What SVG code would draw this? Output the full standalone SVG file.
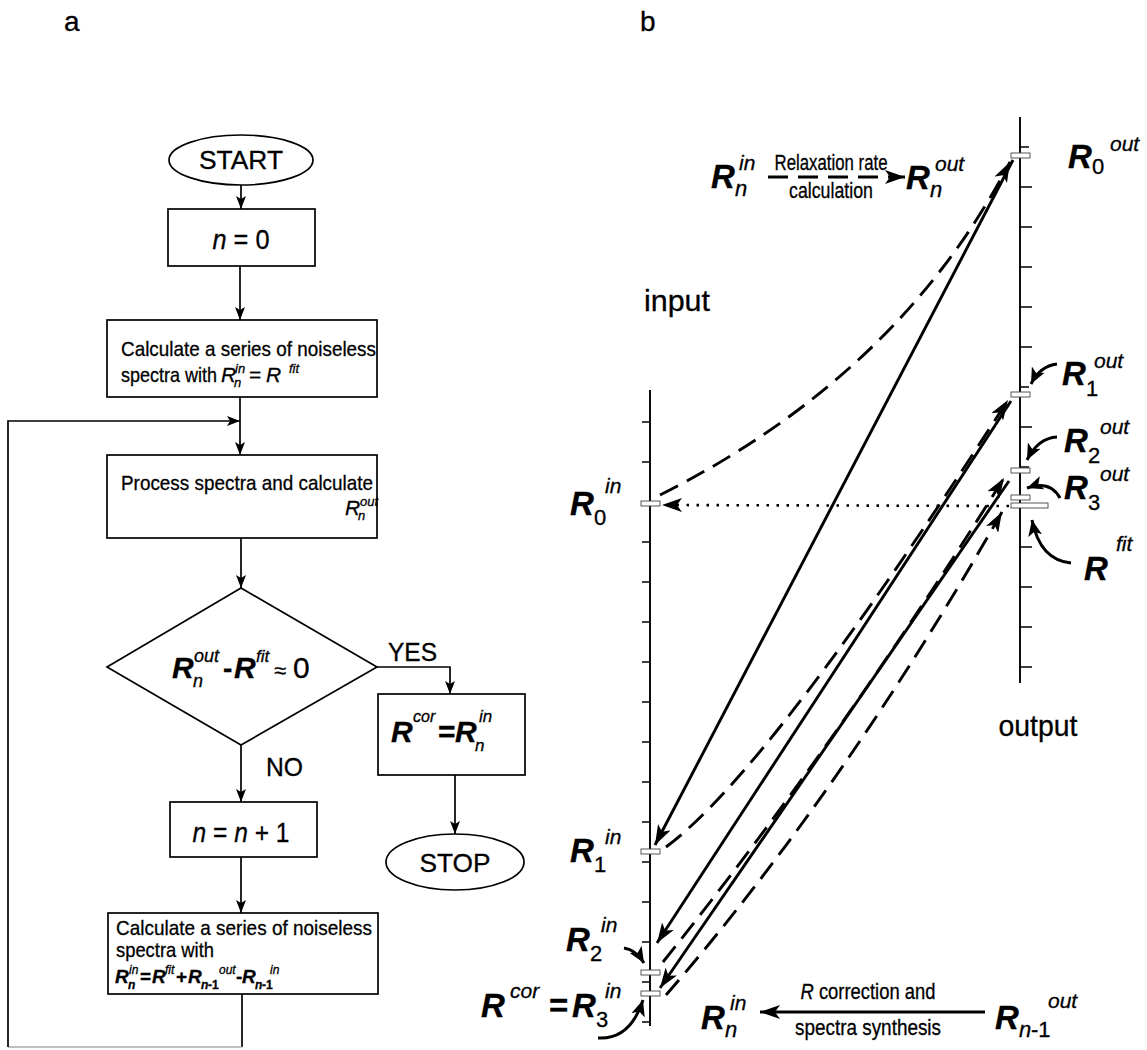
<svg xmlns="http://www.w3.org/2000/svg" width="1147" height="1050" viewBox="0 0 1147 1050">
<style>
text{font-family:"Liberation Sans",Arial,sans-serif;fill:#000;stroke:#000;stroke-width:0.3}
.box{fill:#fff;stroke:#000;stroke-width:1.7}
.fl{fill:none;stroke:#000;stroke-width:1.7}
.t21{font-size:21px}
.big{font-size:28px}
.lab{font-size:28px}
.Rb{font-size:33px;font-weight:bold;font-style:italic}
.Rf{font-size:30px;font-weight:bold;font-style:italic}
.Ri{font-style:italic}
.s{font-size:22px}
.si{font-size:22px;font-style:italic}
.p{font-size:21px;font-style:italic}
.fs{font-size:13px;font-style:italic}
.fsb{font-size:12px;font-style:italic}
.ax{fill:none;stroke:#000;stroke-width:1.9}
.tick{stroke:#000;stroke-width:1.5}
.mk{fill:#fff;stroke:#444;stroke-width:0.9}
.sol{fill:none;stroke:#000;stroke-width:2.9}
.dash{fill:none;stroke:#000;stroke-width:2.9;stroke-dasharray:20 10}
.dot{fill:none;stroke:#000;stroke-width:2.6;stroke-dasharray:2.5 7.5}
.cur{fill:none;stroke:#000;stroke-width:3}
</style>
<defs>
<marker id="fa" markerUnits="userSpaceOnUse" markerWidth="14" markerHeight="10" refX="13" refY="5" orient="auto">
<path d="M0,0 L13,5 L0,10 L3,5 Z" fill="#000"/>
</marker>
<marker id="ba" markerUnits="userSpaceOnUse" markerWidth="22" markerHeight="14" refX="20" refY="7" orient="auto">
<path d="M0,0 L20,7 L0,14 L5,7 Z" fill="#000"/>
</marker>
<marker id="ca" markerUnits="userSpaceOnUse" markerWidth="18" markerHeight="14" refX="16" refY="7" orient="auto">
<path d="M0,0 L16,7 L0,14 L4,7 Z" fill="#000"/>
</marker>
</defs>

<text x="64" y="31" class="lab">a</text>
<text x="640" y="31" class="lab">b</text>

<g id="flow-connectors">
<line class="fl" x1="241" y1="185" x2="241" y2="209" marker-end="url(#fa)"/>
<line class="fl" x1="240" y1="266" x2="240" y2="320" marker-end="url(#fa)"/>
<line class="fl" x1="240" y1="397" x2="240" y2="455" marker-end="url(#fa)"/>
<line class="fl" x1="241" y1="538" x2="241" y2="588" marker-end="url(#fa)"/>
<polyline class="fl" points="377,667 450,667 450,694" marker-end="url(#fa)"/>
<line class="fl" x1="241" y1="745" x2="241" y2="802" marker-end="url(#fa)"/>
<line class="fl" x1="455" y1="775" x2="455" y2="834" marker-end="url(#fa)"/>
<line class="fl" x1="241" y1="857" x2="241" y2="913" marker-end="url(#fa)"/>
<polyline class="fl" points="242,994 242,1047"/>
<polyline fill="none" stroke="#aaa" stroke-width="1.4" points="242,1047 8,1047"/>
<polyline class="fl" points="8,1047 8,421 240,421" marker-end="url(#fa)"/>
<text x="388" y="661" font-size="25" textLength="49" lengthAdjust="spacingAndGlyphs">YES</text>
<text x="266" y="776" font-size="25" textLength="37" lengthAdjust="spacingAndGlyphs">NO</text>
</g>

<g id="start">
<ellipse cx="241" cy="160" rx="72" ry="25" class="box"/>
<text x="241" y="169" text-anchor="middle" font-size="26" textLength="84" lengthAdjust="spacingAndGlyphs">START</text>
</g>
<g id="n0">
<rect x="168" y="209" width="147" height="57" class="box"/>
<text x="241" y="249" text-anchor="middle" class="big" textLength="57" lengthAdjust="spacingAndGlyphs"><tspan font-style="italic">n</tspan> = 0</text>
</g>
<g id="calc1">
<rect x="107" y="320" width="270" height="77" class="box"/>
<text x="121" y="356" class="t21" textLength="255" lengthAdjust="spacingAndGlyphs">Calculate a series of noiseless</text>
<text x="121" y="382" class="t21" textLength="96" lengthAdjust="spacingAndGlyphs">spectra with</text>
<text class="t21"><tspan x="221" y="382" class="Ri">R</tspan><tspan x="234" y="387" class="fs">n</tspan><tspan x="235" y="373" class="fs">in</tspan><tspan x="249" y="382">=</tspan><tspan x="266" y="382" class="Ri">R</tspan><tspan x="289" y="373" class="fs">fit</tspan></text>
</g>
<g id="process">
<rect x="107" y="455" width="270" height="83" class="box"/>
<text x="121" y="490" class="t21" textLength="252" lengthAdjust="spacingAndGlyphs">Process spectra and calculate</text>
<text class="t21"><tspan x="345" y="515" class="Ri">R</tspan><tspan x="358" y="520" class="fs">n</tspan><tspan x="360" y="506" class="fs">out</tspan></text>
</g>
<g id="decision">
<polygon points="241,588 377,667 241,745 107,667" class="box"/>
<text><tspan x="172" y="678" class="Rf">R</tspan><tspan x="193" y="687" font-size="18" font-style="italic">n</tspan><tspan x="194" y="662" font-size="18" font-style="italic">out</tspan><tspan x="223" y="678" font-size="28" font-weight="bold">-</tspan><tspan x="234" y="678" class="Rf">R</tspan><tspan x="256" y="662" font-size="17" font-style="italic">fit</tspan><tspan x="274" y="678" font-size="22">≈</tspan><tspan x="293" y="678" font-size="30">0</tspan></text>
</g>
<g id="rcor">
<rect x="378" y="694" width="147" height="81" class="box"/>
<text><tspan x="391" y="742" class="Rf">R</tspan><tspan x="413" y="722" font-size="16" font-style="italic">cor</tspan><tspan x="438" y="742" font-size="30" font-weight="bold">=</tspan><tspan x="455" y="742" class="Rf">R</tspan><tspan x="475" y="751" font-size="17" font-style="italic">n</tspan><tspan x="479" y="722" font-size="17" font-style="italic">in</tspan></text>
</g>
<g id="stop">
<ellipse cx="455" cy="862" rx="69" ry="28" class="box"/>
<text x="455" y="872" text-anchor="middle" font-size="26" textLength="71" lengthAdjust="spacingAndGlyphs">STOP</text>
</g>
<g id="n-inc">
<rect x="170" y="802" width="147" height="55" class="box"/>
<text x="241" y="842" text-anchor="middle" class="big" textLength="97" lengthAdjust="spacingAndGlyphs"><tspan font-style="italic">n</tspan> = <tspan font-style="italic">n</tspan> + 1</text>
</g>
<g id="calc2">
<rect x="108" y="913" width="270" height="81" class="box"/>
<text x="116" y="935" class="t21" textLength="256" lengthAdjust="spacingAndGlyphs">Calculate a series of noiseless</text>
<text x="116" y="957" class="t21" textLength="98" lengthAdjust="spacingAndGlyphs">spectra with</text>
<text font-weight="bold"><tspan x="115" y="983" font-size="19" font-style="italic">R</tspan><tspan x="128" y="989" class="fsb">n</tspan><tspan x="129" y="974" class="fsb" font-weight="normal">in</tspan><tspan x="140" y="983" font-size="19">=</tspan><tspan x="152" y="983" font-size="19" font-style="italic">R</tspan><tspan x="165" y="974" class="fsb" font-weight="normal">fit</tspan><tspan x="176" y="983" font-size="19">+</tspan><tspan x="188" y="983" font-size="19" font-style="italic">R</tspan><tspan x="201" y="989" class="fsb">n</tspan><tspan x="208" y="989" font-size="12">-1</tspan><tspan x="219" y="974" class="fsb" font-weight="normal">out</tspan><tspan x="236" y="983" font-size="19">-</tspan><tspan x="242" y="983" font-size="19" font-style="italic">R</tspan><tspan x="255" y="989" class="fsb">n</tspan><tspan x="262" y="989" font-size="12">-1</tspan><tspan x="270" y="974" class="fsb" font-weight="normal">in</tspan></text>
</g>

<g id="input-axis">
<text x="677" y="311" text-anchor="middle" font-size="29" textLength="66" lengthAdjust="spacingAndGlyphs">input</text>
<line class="ax" x1="650" y1="390" x2="650" y2="1026"/>
<path class="tick" d="M650,422h-8M650,462h-8M650,502h-8M650,542h-8M650,582h-8M650,622h-8M650,662h-8M650,702h-8M650,742h-8M650,782h-8M650,822h-8M650,862h-8M650,902h-8M650,942h-8M650,982h-8M650,1022h-8"/>
<rect class="mk" x="641" y="501" width="19" height="5"/>
<rect class="mk" x="641" y="849" width="19" height="5"/>
<rect class="mk" x="641" y="970" width="19" height="5"/>
<rect class="mk" x="641" y="991" width="19" height="5"/>
</g>
<g id="output-axis">
<text x="1038" y="736" text-anchor="middle" font-size="29" textLength="79" lengthAdjust="spacingAndGlyphs">output</text>
<line class="ax" x1="1020" y1="117" x2="1020" y2="683"/>
<path class="tick" d="M1020,147h9M1020,187h12M1020,227h12M1020,267h12M1020,307h12M1020,347h12M1020,387h9M1020,427h12M1020,467h9M1020,507h12M1020,547h12M1020,587h12M1020,627h12M1020,667h12"/>
<rect class="mk" x="1011" y="153" width="19" height="5"/>
<rect class="mk" x="1011" y="392" width="19" height="5"/>
<rect class="mk" x="1011" y="468" width="19" height="5"/>
<rect class="mk" x="1011" y="495" width="19" height="5"/>
<rect class="mk" x="1011" y="503" width="37" height="5"/>
</g>

<g id="connectors">
<path class="dash" d="M660,495 Q899,375 1010,162" marker-end="url(#ba)"/>
<line class="dot" x1="1009" y1="506" x2="662" y2="505" marker-end="url(#ba)"/>
<line class="sol" x1="1013" y1="160" x2="655" y2="845" marker-end="url(#ba)"/>
<path class="dash" d="M666,847 Q770,770 1008,400" marker-end="url(#ba)"/>
<line class="sol" x1="1011" y1="401" x2="657" y2="943" marker-end="url(#ba)"/>
<path class="dash" d="M663,962 Q839,742 1004,478" marker-end="url(#ba)"/>
<line class="sol" x1="1009" y1="481" x2="660" y2="988" marker-end="url(#ba)"/>
<path class="dash" d="M666,995 Q843,791 1002,512" marker-end="url(#ba)"/>
<path class="cur" d="M1057,364 Q1040,366 1031,384" marker-end="url(#ca)"/>
<path class="cur" d="M1057,437 Q1038,438 1027,460" marker-end="url(#ca)"/>
<path class="cur" d="M1060,498 Q1050,480 1027,488" marker-end="url(#ca)"/>
<path class="cur" d="M1071,563 Q1040,560 1032,520" marker-end="url(#ca)"/>
<path class="cur" d="M624,948 Q636,950 644,963" marker-end="url(#ca)"/>
<path class="cur" d="M598,1038 Q630,1040 643,1000" marker-end="url(#ca)"/>
<line class="dash" x1="768" y1="177" x2="905" y2="177" marker-end="url(#ba)"/>
<line class="sol" x1="985" y1="1012" x2="760" y2="1012" marker-end="url(#ba)"/>
</g>

<g id="labels">
<text><tspan x="1068" y="168" class="Rb">R</tspan><tspan x="1092" y="174" class="s">0</tspan><tspan x="1110" y="151" class="p">out</tspan></text>
<text><tspan x="1062" y="385" class="Rb">R</tspan><tspan x="1086" y="396" class="s">1</tspan><tspan x="1094" y="368" class="p">out</tspan></text>
<text><tspan x="1064" y="452" class="Rb">R</tspan><tspan x="1088" y="463" class="s">2</tspan><tspan x="1100" y="434" class="p">out</tspan></text>
<text><tspan x="1064" y="499" class="Rb">R</tspan><tspan x="1088" y="510" class="s">3</tspan><tspan x="1100" y="481" class="p">out</tspan></text>
<text><tspan x="1084" y="580" class="Rb">R</tspan><tspan x="1116" y="551" class="p">fit</tspan></text>
<text><tspan x="570" y="515" class="Rb">R</tspan><tspan x="594" y="525" class="s">0</tspan><tspan x="605" y="493" class="p">in</tspan></text>
<text><tspan x="570" y="862" class="Rb">R</tspan><tspan x="594" y="872" class="s">1</tspan><tspan x="605" y="844" class="p">in</tspan></text>
<text><tspan x="566" y="951" class="Rb">R</tspan><tspan x="590" y="961" class="s">2</tspan><tspan x="601" y="932" class="p">in</tspan></text>
<text><tspan x="481" y="1017" class="Rb">R</tspan><tspan x="510" y="998" class="p">cor</tspan><tspan x="549" y="1017" font-size="33" font-weight="bold">=</tspan><tspan x="572" y="1017" class="Rb">R</tspan><tspan x="596" y="1027" class="s">3</tspan><tspan x="605" y="998" class="p">in</tspan></text>
<text><tspan x="711" y="188" class="Rb">R</tspan><tspan x="735" y="196" class="si">n</tspan><tspan x="739" y="170" class="p">in</tspan></text>
<text x="831" y="170" text-anchor="middle" font-size="22" textLength="113" lengthAdjust="spacingAndGlyphs">Relaxation rate</text>
<text x="831" y="198" text-anchor="middle" font-size="22" textLength="84" lengthAdjust="spacingAndGlyphs">calculation</text>
<text><tspan x="906" y="189" class="Rb">R</tspan><tspan x="930" y="197" class="si">n</tspan><tspan x="935" y="171" class="p">out</tspan></text>
<text><tspan x="701" y="1029" class="Rb">R</tspan><tspan x="725" y="1037" class="si">n</tspan><tspan x="730" y="1010" class="p">in</tspan></text>
<text x="868" y="999" text-anchor="middle" font-size="22" textLength="135" lengthAdjust="spacingAndGlyphs"><tspan font-style="italic">R</tspan> correction and</text>
<text x="868" y="1035" text-anchor="middle" font-size="22" textLength="146" lengthAdjust="spacingAndGlyphs">spectra synthesis</text>
<text><tspan x="995" y="1029" class="Rb">R</tspan><tspan x="1019" y="1037" class="si">n</tspan><tspan x="1031" y="1037" class="s">-1</tspan><tspan x="1048" y="1008" class="p">out</tspan></text>
</g>
</svg>
